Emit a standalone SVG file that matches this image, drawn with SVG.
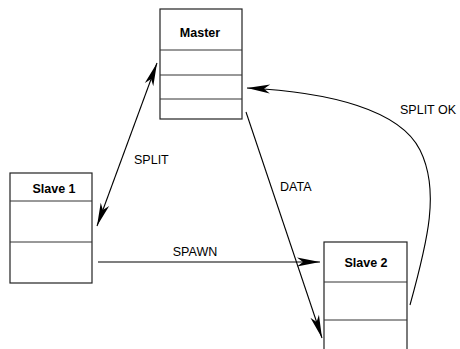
<svg xmlns="http://www.w3.org/2000/svg" width="460" height="349" viewBox="0 0 460 349">
<style>
.box{fill:#fff;stroke:#222;stroke-width:1.2}
.div{stroke:#333;stroke-width:1}
.title{font-family:"Liberation Sans",Arial,sans-serif;font-size:12.5px;font-weight:bold;fill:#000;text-anchor:middle}
.lbl{font-family:"Liberation Sans",Arial,sans-serif;font-size:12.5px;fill:#000}
.conn{fill:none;stroke:#000;stroke-width:1.1}
</style>
<defs>
<marker id="ah" markerUnits="userSpaceOnUse" viewBox="-24 -6 26 12" refX="0" refY="0" markerWidth="26" markerHeight="12" orient="auto-start-reverse">
<path d="M0,0 L-23,-4.5 L-17,0 L-23,4.5 Z" fill="#000"/>
</marker>
</defs>
<rect width="460" height="349" fill="#fff"/>
<g id="master">
<rect class="box" x="160" y="9" width="82" height="110"/>
<line class="div" x1="160" y1="50" x2="242" y2="50"/>
<line class="div" x1="160" y1="75" x2="242" y2="75"/>
<line class="div" x1="160" y1="99" x2="242" y2="99"/>
<text class="title" x="200" y="37">Master</text>
</g>
<g id="slave1">
<rect class="box" x="10" y="173" width="82" height="110"/>
<line class="div" x1="10" y1="201" x2="92" y2="201"/>
<line class="div" x1="10" y1="242" x2="92" y2="242"/>
<text class="title" x="54" y="193">Slave 1</text>
</g>
<g id="slave2">
<rect class="box" x="324" y="242" width="83" height="120"/>
<line class="div" x1="324" y1="282" x2="407" y2="282"/>
<line class="div" x1="324" y1="320" x2="407" y2="320"/>
<text class="title" x="366" y="267">Slave 2</text>
</g>
<g id="connectors">
<line class="conn" x1="97" y1="226" x2="157" y2="63" marker-start="url(#ah)" marker-end="url(#ah)"/>
<line class="conn" x1="98" y1="262" x2="320" y2="262" marker-end="url(#ah)"/>
<line class="conn" x1="246" y1="112" x2="322" y2="338" marker-end="url(#ah)"/>
<path class="conn" d="M410,305 C428,240 440,190 420,150 C400,110 330,92 247,88" marker-end="url(#ah)"/>
<text class="lbl" x="134" y="164">SPLIT</text>
<text class="lbl" x="195" y="256" text-anchor="middle">SPAWN</text>
<text class="lbl" x="280" y="191">DATA</text>
<text class="lbl" x="400" y="114">SPLIT OK</text>
</g>
</svg>
